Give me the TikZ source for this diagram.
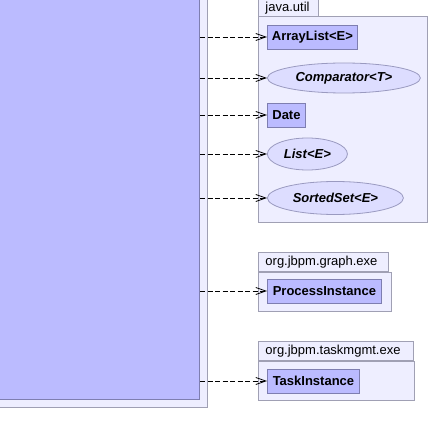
\documentclass[tikz,border=0pt]{standalone}
\usepackage{fontspec}
\setmainfont{Liberation Sans}
\usetikzlibrary{arrows.meta,shapes.geometric}
\definecolor{clsfill}{HTML}{BBBBFF}
\definecolor{clsdraw}{HTML}{7E7EB0}
\definecolor{ifcfill}{HTML}{DDDDFF}
\definecolor{ifcdraw}{HTML}{9A9AC0}
\definecolor{pkgfill}{HTML}{EEEEFF}
\definecolor{pkgdraw}{HTML}{A0A0B4}
\tikzset{
  pkgbody/.style={draw=pkgdraw, fill=pkgfill, line width=0.9pt, inner sep=0pt},
  pkgtab/.style={draw=pkgdraw, fill=pkgfill, line width=0.9pt, inner xsep=7pt, inner ysep=0pt,
    minimum height=19pt, align=left, font=\fontsize{13}{15}\selectfont},
  cls/.style={draw=clsdraw, fill=clsfill, line width=0.9pt, inner xsep=2pt, inner ysep=0pt,
    minimum height=24pt, font=\fontsize{13}{15}\selectfont\bfseries},
  iface/.style={ellipse, draw=ifcdraw, fill=ifcfill, line width=0.8pt, inner sep=0pt,
    font=\fontsize{13}{15}\selectfont\bfseries\itshape},
  dep/.style={line width=0.8pt, dash pattern=on 5pt off 2.5pt, -{Straight Barb[length=10pt,width=7pt]}}
}
\begin{document}
\begin{tikzpicture}[x=1pt, y=-1pt]
\useasboundingbox (0,0) rectangle (430,446);
\clip (0,0) rectangle (430,446);
% client side
\node[pkgbody, anchor=south east, minimum width=220pt, minimum height=420pt] (clientpkg) at (208,408) {};
\node[draw=clsdraw, fill=clsfill, line width=0.9pt, anchor=south east, minimum width=210pt, minimum height=410pt] (client) at (200,400) {};
% java.util
\node[pkgtab, anchor=base west, text width=46pt, text height=16pt, text depth=4pt] (utiltab) at (258,12) {java.util};
\node[pkgbody, anchor=north west, minimum width=169pt, minimum height=206pt] (utilpkg) at (258,16) {};
\node[cls, anchor=west, minimum width=90pt] (al) at (267,37) {ArrayList<E>};
\node[iface, anchor=west, minimum width=153pt, minimum height=30pt] (cmp) at (267,78) {Comparator<T>};
\node[cls, anchor=west, minimum width=38pt] (date) at (267,115) {Date};
\node[iface, anchor=west, minimum width=80pt, minimum height=32pt] (list) at (267,154) {List<E>};
\node[iface, anchor=west, minimum width=136pt, minimum height=33pt] (sset) at (267,198) {SortedSet<E>};
% org.jbpm.graph.exe
\node[pkgtab, anchor=south west, text width=116pt] (graphtab) at (258,272) {org.jbpm.graph.exe};
\node[pkgbody, anchor=north west, minimum width=133pt, minimum height=39pt] (graphpkg) at (258,272) {};
\node[cls, anchor=west, minimum width=114pt] (pi) at (267,291) {ProcessInstance};
% org.jbpm.taskmgmt.exe
\node[pkgtab, anchor=south west, text width=141pt] (tasktab) at (258,361) {org.jbpm.taskmgmt.exe};
\node[pkgbody, anchor=north west, minimum width=156pt, minimum height=39pt] (taskpkg) at (258,361) {};
\node[cls, anchor=west, minimum width=92pt] (ti) at (267,381) {TaskInstance};
% dependencies
\draw[dep] (client.east |- al) -- (al);
\draw[dep] (client.east |- cmp) -- (cmp);
\draw[dep] (client.east |- date) -- (date);
\draw[dep] (client.east |- list) -- (list);
\draw[dep] (client.east |- sset) -- (sset);
\draw[dep] (client.east |- pi) -- (pi);
\draw[dep] (client.east |- ti) -- (ti);
\end{tikzpicture}
\end{document}
